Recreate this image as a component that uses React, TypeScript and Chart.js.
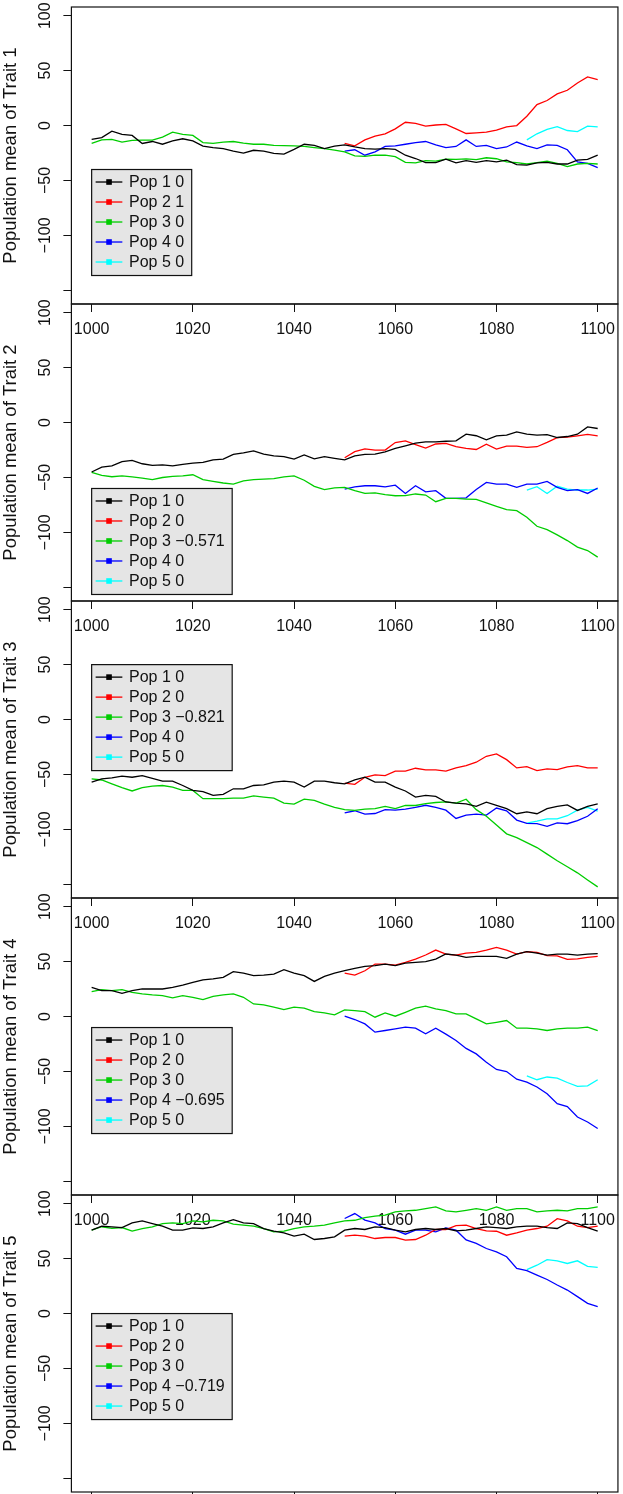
import React, { useEffect, useRef } from "react";
import { Chart, registerables } from "chart.js";

Chart.register(...registerables);

const FONT = '"Liberation Sans", Arial, Helvetica, sans-serif';

// ---------- data ----------
const GEN_STEP = 2;
const POP_STARTS = [1000, 1050, 1000, 1050, 1086];
const POP_NAMES = ["Pop 1", "Pop 2", "Pop 3", "Pop 4", "Pop 5"];
const POP_COLORS = ["#000000", "#FF0000", "#00CD00", "#0000FF", "#00FFFF"];
const TRAIT_NAMES = ["Trait 1", "Trait 2", "Trait 3", "Trait 4", "Trait 5"];
const X_TICKS = [1000, 1020, 1040, 1060, 1080, 1100];
const Y_TICKS = [100, 50, 0, -50, -100, -150];

const trait1Coefs = [0, 1, 0, 0, 0];
const trait2Coefs = [0, 0, -0.571, 0, 0];
const trait3Coefs = [0, 0, -0.821, 0, 0];
const trait4Coefs = [0, 0, 0, -0.695, 0];
const trait5Coefs = [0, 0, 0, -0.719, 0];

const trait1Pop1 = [-12.6, -11, -5.1, -8, -9, -16.3, -14.5, -17, -14, -12, -14, -18.7, -20, -21, -23.2, -25, -22.5, -23.2, -25.3, -26, -21.7, -17, -18, -21, -18.7, -17.5, -19.5, -21, -21.5, -21, -21.7, -27, -30, -33.8, -33.8, -30.5, -34, -32, -33.5, -32, -33, -31.5, -35.5, -36, -34, -33.5, -35, -35, -31.5, -30.8, -27];
const trait1Pop2 = [-16.3, -18.5, -13, -9.6, -7.5, -3, 3, 2, -0.5, 0.5, 1, -3, -7.2, -6.6, -6, -4.2, -1.1, 0, 8.5, 19.1, 22.8, 28.8, 32.1, 38.8, 44.2, 41.8];
const trait1Pop3 = [-16.3, -13, -12.5, -15, -13.5, -13.2, -13.2, -10.5, -6, -8, -9, -15.5, -16.3, -15, -14.5, -16, -17, -17, -18, -18.3, -18.5, -19, -20, -21, -22.3, -24, -27.5, -28, -27, -27, -28.3, -33.5, -34, -32, -32.3, -30.5, -30.8, -30.3, -31, -29.3, -30.2, -33, -33.8, -35, -33.8, -32.3, -34.5, -37.4, -35, -34.5, -35];
const trait1Pop4 = [-23.2, -22, -27, -24, -19, -18.5, -17, -15.5, -14.5, -17.5, -20, -19, -13, -19, -18, -21, -19.5, -15, -18.5, -21, -17.5, -18, -22, -33, -34.5, -38.3];
const trait1Pop5 = [-13, -7.5, -3.5, -1, -4.5, -5.5, -0.5, -1.2];

const trait2Pop1 = [-45, -40.5, -39.5, -35.5, -34.5, -37.5, -39, -38.5, -39.5, -38, -37, -36.3, -34, -33.3, -29, -27.5, -25.7, -28.7, -30.3, -31, -33.3, -29.5, -33, -31, -32.5, -33.9, -30.3, -29, -28.7, -26.6, -23.6, -21.2, -18.8, -17.5, -17.5, -17, -16.6, -10.6, -12, -15.7, -12.1, -11.5, -8.5, -10.6, -11.5, -11, -13.6, -12.7, -10.6, -4, -5.4];
const trait2Pop2 = [-32, -26.5, -24, -25, -25, -18.2, -16.7, -20, -23.3, -19.5, -19, -22, -23.5, -24.5, -19.7, -24.2, -21.5, -21.5, -22.5, -22, -18, -13.7, -13.3, -12.1, -10.8, -12.1];
const trait2Pop3 = [-45.4, -48, -49.3, -48.5, -49.5, -50.5, -52, -50, -49, -48.5, -47.5, -52, -53.5, -55, -56, -53, -52, -51.5, -51, -49.5, -48.5, -52.5, -58, -61, -59.5, -59, -62, -64.5, -64, -65.5, -66.6, -66.5, -65, -66, -72, -69, -69, -69.6, -70, -73.2, -76.2, -79.3, -80.2, -86.2, -94.4, -97.4, -102.2, -107.4, -113.4, -116.5, -122.5];
const trait2Pop4 = [-60.5, -58.5, -57.5, -57.5, -58.5, -57, -64.5, -57.5, -63, -62, -69, -69, -68.5, -61, -54.5, -56, -56, -59, -56, -56, -53.6, -59, -62, -61, -64.5, -59.6];
const trait2Pop5 = [-61.4, -58.4, -64.5, -58, -60.5, -61.4, -61.4, -60.5];

const trait3Pop1 = [-57, -54, -53, -51.5, -52.5, -51, -53.5, -56, -56, -60, -64.5, -65.5, -69, -68, -63, -63, -60, -59.5, -57, -56, -57, -61.5, -56, -56, -57.5, -58.5, -55, -52.5, -57, -57, -61.5, -65, -70.5, -69, -70, -75, -76, -76.7, -79, -75.1, -78, -81, -85.7, -84, -85.7, -81, -79, -77.6, -82.7, -79, -76.7];
const trait3Pop2 = [-57.9, -59, -52.5, -50.3, -51, -47, -47, -44.3, -45.8, -45.8, -47, -44, -41.9, -38.8, -33.4, -31.3, -36.5, -44, -42.8, -46.4, -44.9, -45.5, -43, -42, -44, -44];
const trait3Pop3 = [-54, -55, -58.5, -62, -65, -62, -60.5, -60, -61.5, -64.5, -64.5, -72, -72, -72, -71.5, -71.5, -69.5, -70.5, -71.5, -76, -77, -72.5, -73.5, -77, -80, -82, -82.7, -81.5, -81, -79.1, -81, -78.2, -78.2, -76.5, -75.5, -75, -76, -72.5, -82, -88, -96, -104, -107.5, -112, -116.5, -122.5, -128.5, -134, -139.5, -146, -152.3];
const trait3Pop4 = [-85, -83, -86, -85.5, -82, -82.5, -81.5, -80, -78, -80, -82.5, -90, -87, -86, -87, -80.5, -83, -91.5, -94.5, -94.8, -97.2, -94, -94.8, -92, -88, -81.2];
const trait3Pop5 = [-94.2, -92.4, -90.3, -90.3, -87.5, -82.5, -80, -83.3];

const trait4Pop1 = [26.6, 23.6, 23.6, 21.2, 23.6, 25.1, 25.1, 25.1, 26.6, 28.7, 31.2, 33.3, 34.2, 35.7, 40.8, 39.6, 37.2, 37.8, 38.7, 42.6, 39.6, 37.2, 32, 36.6, 39.6, 41.7, 43.9, 45.7, 46.3, 47.8, 46.3, 48.7, 49.3, 49.9, 52.3, 56.9, 56, 53.8, 54.7, 54.7, 54.7, 52.9, 56.9, 59, 57.8, 56, 56.9, 56.9, 56, 56.9, 57.2];
const trait4Pop2 = [39.6, 37.8, 41.7, 47.8, 47.8, 46.9, 49.3, 52.3, 56, 60.5, 56.9, 56, 57.8, 58.4, 60.5, 63, 60.5, 56.9, 59, 58.4, 55.5, 55.3, 52, 52.5, 53.8, 54.7];
const trait4Pop3 = [22.7, 24.5, 23.6, 24.5, 22.1, 20.6, 19.7, 19.1, 17, 19.1, 17.5, 15.4, 18.4, 19.7, 20.6, 17.5, 11.5, 10.6, 8.5, 6.3, 8.5, 7.6, 4.5, 3.3, 1.5, 6, 5.4, 4.5, -0.6, 3.3, 0.3, 3.9, 7.6, 9.4, 7, 5.4, 2.4, 2.4, -2.1, -6.7, -5.2, -3.6, -10.6, -10.6, -11.2, -12.7, -11.2, -10.6, -10.6, -9.7, -12.7];
const trait4Pop4 = [0.3, -2.7, -6.7, -14.2, -12.7, -11.2, -9.7, -10.6, -15.7, -10.6, -16, -21.8, -29, -34, -41.5, -48.1, -50, -57, -59.6, -64.1, -70.2, -79.3, -82, -91.4, -96, -101.9];
const trait4Pop5 = [-54, -57.5, -55, -56, -60, -63.5, -63, -57.5];

const trait5Pop1 = [75.9, 79.5, 78.9, 78.3, 82.5, 84.3, 81.9, 79.5, 75.9, 75.9, 78, 77.4, 78.9, 82.5, 85.5, 82.5, 81.9, 77.4, 75, 73.4, 70.4, 72.2, 67.4, 68.3, 69.8, 75.9, 77.4, 76.5, 78.9, 78.3, 75.9, 74.3, 76.5, 77.4, 76.5, 77.4, 75.2, 75.9, 77.4, 78.9, 78.3, 77.4, 78.9, 79.5, 79.5, 78.3, 77.4, 82.5, 81.9, 78.3, 75];
const trait5Pop2 = [70.4, 71.3, 70.4, 68.3, 69.2, 69.2, 66.8, 67.4, 71.3, 76.5, 76.5, 80, 80.4, 77.4, 75.2, 74.9, 71.3, 73.4, 75.9, 77.4, 79.5, 86.4, 84.3, 79.5, 78.3, 79.5];
const trait5Pop3 = [75.9, 79, 77.5, 78.3, 75, 77.4, 78.9, 81.9, 82.5, 81.9, 84.3, 83.4, 84.9, 84.3, 81.3, 80.4, 79.5, 77.4, 74.3, 75, 77.4, 78.9, 79.5, 80.4, 82.5, 84.3, 84.9, 87.3, 88.6, 89.5, 92.5, 93.4, 94, 95.5, 97, 93.4, 92.5, 94, 95.5, 94, 97, 94, 95.5, 95.5, 92.5, 93.4, 94, 93.4, 95.5, 95.5, 97];
const trait5Pop4 = [86.5, 91, 85, 82.5, 77.4, 75.9, 72.2, 75.9, 75.9, 74.3, 78, 75.9, 67, 63.8, 59.2, 56.2, 51.7, 41, 39, 35, 31, 26, 21.4, 15.4, 9.3, 6.3];
const trait5Pop5 = [40, 44, 49, 48, 45.6, 48, 43, 42];

const TRAITS = [
  { name: TRAIT_NAMES[0], coefs: trait1Coefs, series: [trait1Pop1, trait1Pop2, trait1Pop3, trait1Pop4, trait1Pop5] },
  { name: TRAIT_NAMES[1], coefs: trait2Coefs, series: [trait2Pop1, trait2Pop2, trait2Pop3, trait2Pop4, trait2Pop5] },
  { name: TRAIT_NAMES[2], coefs: trait3Coefs, series: [trait3Pop1, trait3Pop2, trait3Pop3, trait3Pop4, trait3Pop5] },
  { name: TRAIT_NAMES[3], coefs: trait4Coefs, series: [trait4Pop1, trait4Pop2, trait4Pop3, trait4Pop4, trait4Pop5] },
  { name: TRAIT_NAMES[4], coefs: trait5Coefs, series: [trait5Pop1, trait5Pop2, trait5Pop3, trait5Pop4, trait5Pop5] },
];

// ---------- layout ----------
const CANVAS_W = 623;
const PANEL_TOPS = [7, 304, 601, 898, 1195];
const PANEL_H = 297;
const PAD_TOP = 20;
const AXIS_BOTTOM = 40;
const CANVAS_H = PAD_TOP + PANEL_H + AXIS_BOTTOM;
const X_MIN = 996;
const X_MAX = 1104;
const Y_MIN = -162.4;
const Y_MAX = 107.9;
const LEGEND_X = 1000;
const LEGEND_TOPS = [-40, -60, 50, -10, 0];

const fmtNum = (v: number) => (v < 0 ? "\u2212" + String(-v) : String(v));

function makeFramePlugin() {
  return {
    id: "frame",
    beforeDatasetsDraw(chart: any) {
      const { ctx, chartArea: a } = chart;
      ctx.save();
      ctx.strokeStyle = "#111";
      ctx.lineWidth = 1.2;
      ctx.strokeRect(a.left, a.top, a.right - a.left, a.bottom - a.top);
      ctx.restore();
    },
  };
}

function makeLegendPlugin(legendTop: number) {
  return {
    id: "rlegend",
    afterDatasetsDraw(chart: any) {
      const { ctx, scales } = chart;
      const left = scales.x.getPixelForValue(LEGEND_X);
      const top = scales.y.getPixelForValue(legendTop);
      ctx.save();
      ctx.font = `16px ${FONT}`;
      const labels = chart.data.datasets.map((d: any) => d.label as string);
      const textW = Math.max(...labels.map((l: string) => ctx.measureText(l).width));
      const w = 37.4 + textW + 7.5;
      const h = 106;
      ctx.fillStyle = "#E5E5E5";
      ctx.fillRect(left, top, w, h);
      ctx.strokeStyle = "#111";
      ctx.lineWidth = 1.2;
      ctx.strokeRect(left, top, w, h);
      ctx.textBaseline = "middle";
      ctx.textAlign = "left";
      chart.data.datasets.forEach((d: any, i: number) => {
        const cy = top + 12.5 + 20 * i;
        ctx.strokeStyle = d.borderColor;
        ctx.lineWidth = 1.3;
        ctx.beginPath();
        ctx.moveTo(left + 4, cy);
        ctx.lineTo(left + 30.7, cy);
        ctx.stroke();
        ctx.fillStyle = d.borderColor;
        ctx.fillRect(left + 17.4 - 2.8, cy - 2.8, 5.6, 5.6);
        ctx.fillStyle = "#111";
        ctx.fillText(d.label, left + 37.4, cy + 0.5);
      });
      ctx.restore();
    },
  };
}

function TraitPanel({ index }: { index: number }) {
  const ref = useRef<HTMLCanvasElement>(null);
  useEffect(() => {
    const trait = TRAITS[index];
    const datasets = trait.series.map((vals, i) => ({
      label: `${POP_NAMES[i]} ${fmtNum(trait.coefs[i])}`,
      data: vals.map((v, k) => ({ x: POP_STARTS[i] + GEN_STEP * k, y: v })),
      borderColor: POP_COLORS[i],
      backgroundColor: POP_COLORS[i],
      borderWidth: 1.3,
      pointRadius: 0,
      tension: 0,
      fill: false,
    }));
    const chart = new Chart(ref.current as HTMLCanvasElement, {
      type: "line",
      data: { datasets },
      options: {
        responsive: false,
        animation: false,
        devicePixelRatio: 1,
        events: [],
        layout: { padding: { top: PAD_TOP, right: CANVAS_W - 620.3, left: 0, bottom: 0 } },
        plugins: { legend: { display: false }, tooltip: { enabled: false } },
        scales: {
          x: {
            type: "linear",
            min: X_MIN,
            max: X_MAX,
            afterBuildTicks: (s: any) => {
              s.ticks = X_TICKS.map((v) => ({ value: v }));
            },
            afterFit: (s: any) => {
              s.height = AXIS_BOTTOM;
            },
            grid: { drawOnChartArea: false, drawTicks: true, tickLength: 8, color: "#111", lineWidth: 1 },
            border: { display: false },
            ticks: {
              autoSkip: false,
              maxRotation: 0,
              minRotation: 0,
              padding: 8,
              color: "#111",
              font: { family: FONT, size: 16 },
              callback: (v: any) => String(v),
            },
          },
          y: {
            type: "linear",
            min: Y_MIN,
            max: Y_MAX,
            afterBuildTicks: (s: any) => {
              s.ticks = Y_TICKS.map((v) => ({ value: v }));
            },
            afterFit: (s: any) => {
              s.width = 71.4;
            },
            grid: { drawOnChartArea: false, drawTicks: true, tickLength: 8, color: "#111", lineWidth: 1 },
            border: { display: false },
            ticks: {
              autoSkip: false,
              minRotation: 90,
              maxRotation: 90,
              crossAlign: "center",
              padding: 0,
              color: "#111",
              font: { family: FONT, size: 16 },
              callback: (v: any) => (v === -150 ? "" : fmtNum(v)),
            },
            title: {
              display: true,
              text: `Population mean of ${trait.name}`,
              color: "#111",
              font: { family: FONT, size: 18.5 },
              padding: { top: 0, bottom: 0 },
            },
          },
        },
      },
      plugins: [makeFramePlugin(), makeLegendPlugin(LEGEND_TOPS[index])],
    } as any);
    return () => chart.destroy();
  }, [index]);
  return (
    <canvas
      ref={ref}
      width={CANVAS_W}
      height={CANVAS_H}
      style={{
        position: "absolute",
        left: 0,
        top: PANEL_TOPS[index] - PAD_TOP,
        width: CANVAS_W,
        height: CANVAS_H,
        display: "block",
      }}
    />
  );
}

export default function App() {
  return (
    <div
      style={{
        position: "absolute",
        left: 0,
        top: 0,
        width: CANVAS_W,
        height: 1494,
        overflow: "hidden",
        background: "#fff",
      }}
    >
      {TRAITS.map((_, i) => (
        <TraitPanel key={i} index={i} />
      ))}
    </div>
  );
}
